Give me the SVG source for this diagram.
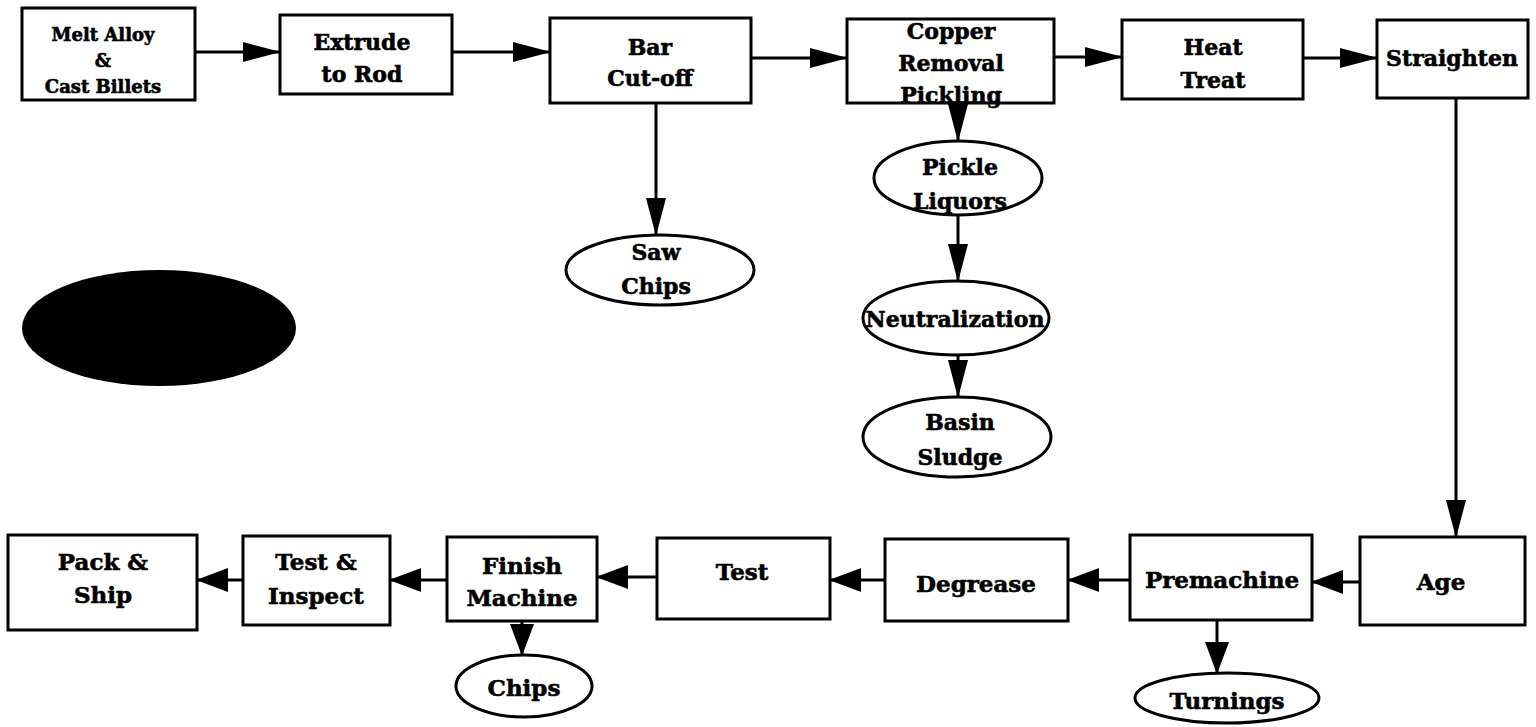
<svg xmlns="http://www.w3.org/2000/svg" width="1536" height="727" viewBox="0 0 1536 727">
<style>
.bx{fill:#fff;stroke:#000;stroke-width:3}
.el{fill:#fff;stroke:#000;stroke-width:3}
.t{font-family:"DejaVu Serif","Liberation Serif",serif;font-weight:bold;font-size:22px;text-anchor:middle;fill:#000;stroke:#000;stroke-width:0.6}
.s{font-size:18px}
.b{font-size:23px}
.c line{stroke:#000;stroke-width:3}
</style>
<defs>
<marker id="ah" viewBox="0 0 38 20" refX="37" refY="10" markerWidth="38" markerHeight="20" markerUnits="userSpaceOnUse" orient="auto"><path d="M0,0 L38,10 L0,20 z" fill="#000"/></marker>
<marker id="ab" viewBox="0 0 32 24" refX="31" refY="12" markerWidth="32" markerHeight="24" markerUnits="userSpaceOnUse" orient="auto"><path d="M0,0 L32,12 L0,24 z" fill="#000"/></marker>
</defs>
<rect width="1536" height="727" fill="#fff"/>
<g class="c" id="connectors">
<line x1="195" y1="52" x2="280" y2="52" marker-end="url(#ah)"/>
<line x1="452" y1="52" x2="550" y2="52" marker-end="url(#ah)"/>
<line x1="751" y1="58" x2="847" y2="58" marker-end="url(#ah)"/>
<line x1="1054" y1="57" x2="1122" y2="57" marker-end="url(#ah)"/>
<line x1="1303" y1="58" x2="1377" y2="58" marker-end="url(#ah)"/>
<line x1="1456" y1="98" x2="1456" y2="537" marker-end="url(#ah)"/>
<line x1="656" y1="103" x2="656" y2="235" marker-end="url(#ah)"/>
<line x1="958" y1="103" x2="958" y2="141" marker-end="url(#ah)"/>
<line x1="958" y1="215" x2="958" y2="281" marker-end="url(#ah)"/>
<line x1="958" y1="355" x2="958" y2="397" marker-end="url(#ah)"/>
<line x1="1360" y1="582" x2="1312" y2="582" marker-end="url(#ab)"/>
<line x1="1130" y1="580" x2="1068" y2="580" marker-end="url(#ab)"/>
<line x1="885" y1="580" x2="830" y2="580" marker-end="url(#ab)"/>
<line x1="657" y1="577" x2="597" y2="577" marker-end="url(#ab)"/>
<line x1="447" y1="580" x2="390" y2="580" marker-end="url(#ab)"/>
<line x1="243" y1="580" x2="197" y2="580" marker-end="url(#ab)"/>
<line x1="522" y1="621" x2="522" y2="655" marker-end="url(#ab)"/>
<line x1="1217" y1="620" x2="1217" y2="673" marker-end="url(#ab)"/>
</g>
<g id="melt"><rect class="bx" x="22" y="8" width="173" height="92"/>
<text class="t s" x="103" y="41">Melt Alloy</text><text class="t s" x="103" y="67">&amp;</text><text class="t s" x="103" y="93">Cast Billets</text></g>
<g id="extrude"><rect class="bx" x="280" y="15" width="172" height="79"/>
<text class="t" x="362" y="50">Extrude</text><text class="t" x="362" y="82">to Rod</text></g>
<g id="bar"><rect class="bx" x="550" y="18" width="201" height="85"/>
<text class="t" x="650" y="55">Bar</text><text class="t" x="650" y="86">Cut-off</text></g>
<g id="copper"><rect class="bx" x="847" y="19" width="207" height="84"/>
<text class="t" x="951" y="39">Copper</text><text class="t" x="951" y="71">Removal</text><text class="t" x="951" y="103">Pickling</text></g>
<g id="heat"><rect class="bx" x="1122" y="20" width="181" height="79"/>
<text class="t" x="1213" y="55">Heat</text><text class="t" x="1213" y="88">Treat</text></g>
<g id="straighten"><rect class="bx" x="1377" y="20" width="151" height="78"/>
<text class="t" x="1452" y="66">Straighten</text></g>
<g id="sawchips"><ellipse class="el" cx="660" cy="270" rx="94" ry="35"/>
<text class="t" x="656" y="260">Saw</text><text class="t" x="656" y="294">Chips</text></g>
<g id="pickle"><ellipse class="el" cx="958" cy="178" rx="84" ry="37"/>
<text class="t" x="960" y="175">Pickle</text><text class="t" x="960" y="209">Liquors</text></g>
<g id="neutral"><ellipse class="el" cx="956" cy="318" rx="93" ry="37"/>
<text class="t" x="955" y="327">Neutralization</text></g>
<g id="basin"><ellipse class="el" cx="957" cy="437" rx="94" ry="40"/>
<text class="t" x="960" y="430">Basin</text><text class="t" x="960" y="465">Sludge</text></g>
<g id="blob"><ellipse cx="159" cy="328" rx="137" ry="58" fill="#000"/></g>
<g id="pack"><rect class="bx" x="8" y="535" width="189" height="95"/>
<text class="t b" x="103" y="570">Pack &amp;</text><text class="t b" x="103" y="603">Ship</text></g>
<g id="testinspect"><rect class="bx" x="243" y="536" width="147" height="89"/>
<text class="t b" x="316" y="570">Test &amp;</text><text class="t b" x="316" y="604">Inspect</text></g>
<g id="finish"><rect class="bx" x="447" y="537" width="150" height="84"/>
<text class="t b" x="522" y="574">Finish</text><text class="t b" x="522" y="606">Machine</text></g>
<g id="test"><rect class="bx" x="657" y="538" width="173" height="81"/>
<text class="t b" x="742" y="580">Test</text></g>
<g id="degrease"><rect class="bx" x="885" y="539" width="183" height="82"/>
<text class="t b" x="976" y="592">Degrease</text></g>
<g id="premachine"><rect class="bx" x="1130" y="535" width="182" height="85"/>
<text class="t b" x="1222" y="588">Premachine</text></g>
<g id="age"><rect class="bx" x="1360" y="537" width="165" height="88"/>
<text class="t b" x="1441" y="590">Age</text></g>
<g id="chips"><ellipse class="el" cx="524" cy="686" rx="68" ry="31"/>
<text class="t b" x="524" y="696">Chips</text></g>
<g id="turnings"><ellipse class="el" cx="1227" cy="698" rx="92" ry="25"/>
<text class="t b" x="1227" y="709">Turnings</text></g>
</svg>
